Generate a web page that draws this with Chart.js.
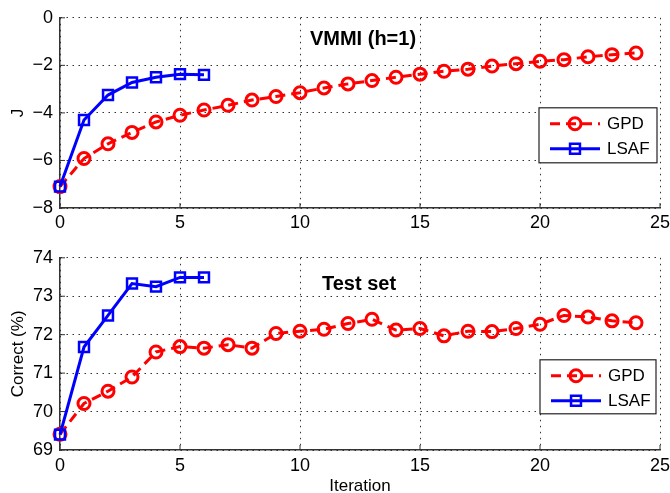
<!DOCTYPE html>
<html><head><meta charset="utf-8">
<script src="https://cdn.jsdelivr.net/npm/chart.js@4/dist/chart.umd.min.js"></script>
<style>
html,body{margin:0;padding:0;background:#fff;}
#wrap{position:relative;width:670px;height:493px;overflow:hidden;}
canvas{position:absolute;left:0;}
</style>
</head><body>
<div id="wrap">
<canvas id="c1" width="670" height="240" style="top:0px"></canvas>
<canvas id="c2" width="670" height="253" style="top:240px"></canvas>
</div>
<script>
// ---- data ----
const iterations = [0,1,2,3,4,5,6,7,8,9,10,11,12,13,14,15,16,17,18,19,20,21,22,23,24];
const lsafIterations = [0,1,2,3,4,5,6];
const gpdJ = [-7.1,-5.92,-5.3,-4.82,-4.38,-4.1,-3.88,-3.68,-3.46,-3.31,-3.15,-2.95,-2.78,-2.64,-2.5,-2.37,-2.25,-2.16,-2.03,-1.93,-1.83,-1.76,-1.64,-1.55,-1.48];
const lsafJ = [-7.1,-4.3,-3.25,-2.72,-2.5,-2.37,-2.4];
const gpdCorrect = [69.41,70.21,70.53,70.9,71.55,71.69,71.65,71.74,71.65,72.03,72.09,72.14,72.29,72.4,72.12,72.16,71.97,72.09,72.08,72.16,72.27,72.5,72.46,72.36,72.31];
const lsafCorrect = [69.4,71.68,72.5,73.33,73.25,73.49,73.49];
const xTicks = [0,5,10,15,20,25];
const jTicks = [0,-2,-4,-6,-8];
const correctTicks = [69,70,71,72,73,74];
const seriesNames = ['GPD','LSAF'];
const titles = ['VMMI (h=1)','Test set'];
const yTitles = ['J','Correct (%)'];
const xTitle = 'Iteration';

const FONT = '"Liberation Sans", Arial, Helvetica, sans-serif';
const RED = 'rgb(255,0,0)', BLUE = 'rgb(0,0,255)';

function pts(xs, ys){ return ys.map((y,i)=>({x:xs[i], y:y})); }

const innerTicks = {
  id:'innerTicks',
  beforeDatasetsDraw(chart){
    const {ctx, chartArea:a, scales:{x,y}} = chart;
    ctx.save();
    ctx.strokeStyle = '#333'; ctx.lineWidth = 1;
    ctx.beginPath();
    x.ticks.forEach(t=>{ const px = x.getPixelForValue(t.value); ctx.moveTo(px, a.bottom); ctx.lineTo(px, a.bottom-5); });
    y.ticks.forEach(t=>{ const py = y.getPixelForValue(t.value); ctx.moveTo(a.left, py); ctx.lineTo(a.left+5, py); });
    ctx.stroke();
    ctx.restore();
  }
};

const boxLegend = {
  id:'boxLegend',
  afterDraw(chart, args, o){
    const {ctx, chartArea:a} = chart;
    const bx = a.right - o.right - o.w, by = a.top + o.top;
    ctx.save();
    ctx.fillStyle = '#fff';
    ctx.fillRect(bx, by, o.w, o.h);
    ctx.strokeStyle = '#222'; ctx.lineWidth = 1.2;
    ctx.strokeRect(bx, by, o.w, o.h);
    const rows = [16, 41];
    chart.data.datasets.forEach((ds, i)=>{
      const yy = by + rows[i];
      ctx.strokeStyle = ds.borderColor; ctx.lineWidth = ds.borderWidth;
      ctx.setLineDash(ds.borderDash || []);
      ctx.beginPath(); ctx.moveTo(bx+11, yy); ctx.lineTo(bx+61, yy); ctx.stroke();
      ctx.setLineDash([]);
      ctx.lineWidth = ds.pointBorderWidth;
      ctx.fillStyle = ds.pointBackgroundColor;
      Chart.helpers.drawPoint(ctx, {pointStyle: ds.pointStyle, radius: ds.pointRadius, rotation:0, borderWidth: ds.pointBorderWidth}, bx+36, yy);
      ctx.fillStyle = '#000';
      ctx.font = '17px ' + FONT;
      ctx.textBaseline = 'middle'; ctx.textAlign = 'left';
      ctx.fillText(ds.label, bx+68, yy+1);
    });
    ctx.restore();
  }
};

const innerTitle = {
  id:'innerTitle',
  afterDatasetsDraw(chart, args, o){
    const {ctx, chartArea:a} = chart;
    ctx.save();
    ctx.font = 'bold 20px ' + FONT;
    ctx.fillStyle = '#000';
    ctx.textAlign = 'center'; ctx.textBaseline = 'middle';
    ctx.fillText(o.text, a.left + o.dx, a.top + o.dy);
    ctx.restore();
  }
};

function makeChart(id, gpdY, lsafY, yTickVals, yTitle, title, opts){
  const yMin = Math.min(...yTickVals), yMax = Math.max(...yTickVals);
  return new Chart(document.getElementById(id), {
    type:'line',
    data:{ datasets:[
      { label: seriesNames[0], data: pts(iterations, gpdY), borderColor: RED, borderWidth: 3, borderDash:[10,6],
        pointStyle:'circle', pointRadius:6, pointBorderWidth:3, pointBorderColor: RED, pointBackgroundColor:'rgba(0,0,0,0)',
        tension:0, clip:false, order:1 },
      { label: seriesNames[1], data: pts(lsafIterations, lsafY), borderColor: BLUE, borderWidth: 3,
        pointStyle:'rect', pointRadius:7, pointBorderWidth:2.5, pointBorderColor: BLUE, pointBackgroundColor:'rgba(0,0,0,0)',
        tension:0, clip:false, order:0 }
    ]},
    options:{
      responsive:false, animation:false, devicePixelRatio:1,
      layout:{ padding:{ top: opts.padTop, right:10, left:0, bottom:0 } },
      plugins:{ legend:{display:false}, tooltip:{enabled:false},
        boxLegend: opts.legend,
        innerTitle: { text: title, dx: opts.titleDx, dy: opts.titleDy } },
      scales:{
        x:{ type:'linear', min:0, max:25,
          afterBuildTicks: s => { s.ticks = xTicks.map(v=>({value:v})); },
          afterFit: s => { s.height = opts.xHeight; s.paddingRight = 0; s.paddingLeft = 0; },
          grid:{ color:'#333', lineWidth:1, drawTicks:false },
          border:{ display:true, color:'#333', width:1.5, dash:[1.5,4.5] },
          ticks:{ padding: opts.xPad, color:'#000', font:{ family: FONT, size:18 }, maxRotation:0,
            callback: v => String(v) },
          title:{ display: !!opts.xTitle, text: opts.xTitle || '', color:'#000', font:{ family: FONT, size:17, lineHeight:0.8 }, padding:{top:0,bottom:0} }
        },
        y:{ type:'linear', min:yMin, max:yMax,
          afterBuildTicks: s => { s.ticks = yTickVals.map(v=>({value:v})); },
          afterFit: s => { s.width = 60; },
          grid:{ color:'#333', lineWidth:1, drawTicks:false },
          border:{ display:true, color:'#333', width:1.5, dash:[1.5,4.5] },
          ticks:{ padding:7, color:'#000', font:{ family: FONT, size:18 },
            callback: v => String(v).replace('-', '\u2212') },
          title:{ display:true, text: yTitle, color:'#000', font:{ family: FONT, size:17, lineHeight:1 }, padding:{top:10,bottom:0} }
        }
      }
    },
    plugins:[innerTicks, boxLegend, innerTitle]
  });
}

makeChart('c1', gpdJ, lsafJ, jTicks, yTitles[0], titles[0], {
  padTop:12, xHeight:32, xPad:4, titleDx:303, titleDy:22,
  legend:{ right:3, w:118, top:90, h:55 }
});
makeChart('c2', gpdCorrect, lsafCorrect, correctTicks, yTitles[1], titles[1], {
  padTop:13, xHeight:43, xPad:5, xTitle: xTitle, titleDx:299, titleDy:27,
  legend:{ right:4, w:116, top:102, h:54 }
});
</script>
</body></html>
